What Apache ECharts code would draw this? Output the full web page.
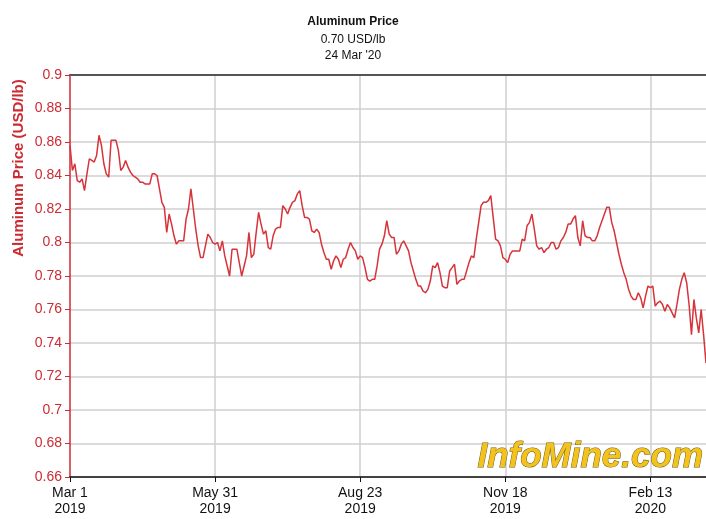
<!DOCTYPE html>
<html>
<head>
<meta charset="utf-8">
<script src="https://cdn.jsdelivr.net/npm/echarts@6/dist/echarts.min.js"></script>
<style>html,body{margin:0;padding:0;background:#fff;}#c{width:706px;height:519px;}</style>
</head>
<body>
<div id="c"></div>
<script>
// Daily aluminum price, USD/lb, trading days from 1 Mar 2019 to 24 Mar 2020
const prices = [
  0.858,0.843,0.847,0.837,0.836,0.838,0.831,0.841,0.850,0.849,
  0.848,0.852,0.864,0.858,0.847,0.841,0.839,0.861,0.861,0.861,
  0.855,0.843,0.845,0.849,0.845,0.842,0.840,0.839,0.838,0.836,
  0.836,0.835,0.835,0.835,0.841,0.841,0.840,0.832,0.824,0.821,
  0.806,0.817,0.811,0.804,0.799,0.801,0.801,0.801,0.814,0.820,
  0.832,0.820,0.808,0.798,0.791,0.791,0.798,0.805,0.803,0.800,
  0.799,0.800,0.795,0.801,0.792,0.786,
  0.780,0.796,0.796,0.796,0.788,0.780,0.786,0.792,0.806,0.791,
  0.793,0.806,0.818,0.811,0.805,0.807,0.797,0.796,0.804,0.808,
  0.809,0.809,0.822,0.820,0.817,0.821,0.824,0.825,0.829,0.831,
  0.822,0.815,0.815,0.814,0.807,0.806,0.808,0.806,0.799,0.794,
  0.790,0.790,0.784,0.789,0.792,0.790,0.785,0.790,0.791,0.796,
  0.800,0.797,0.795,0.790,0.792,0.791,0.785,0.778,0.777,0.778,
  0.778,0.786,0.796,0.799,0.804,
  0.813,0.805,0.803,0.803,0.793,0.795,0.799,0.801,0.798,0.795,
  0.788,0.783,0.778,0.774,0.774,0.771,0.770,0.772,0.777,0.786,
  0.785,0.788,0.782,0.774,0.773,0.773,0.783,0.785,0.787,0.775,
  0.777,0.778,0.778,0.783,0.788,0.792,0.791,0.802,0.812,0.822,
  0.824,0.824,0.825,0.828,0.815,0.802,0.801,0.798,0.791,0.790,
  0.788,0.793,0.795,0.795,0.795,0.795,0.802,0.801,0.810,0.812,
  0.817,0.808,0.798,0.796,
  0.797,0.794,0.796,0.797,0.800,0.800,0.796,0.797,0.801,0.803,
  0.806,0.811,0.811,0.814,0.816,0.803,0.798,0.813,0.804,0.803,
  0.803,0.801,0.801,0.804,0.809,0.813,0.817,0.821,0.821,0.812,
  0.807,0.800,0.793,0.787,0.782,0.778,0.772,0.768,0.766,0.766,
  0.770,0.767,0.761,0.768,0.774,0.773,0.774,0.762,0.764,0.765,
  0.763,0.759,0.763,0.761,0.758,0.755,0.763,0.772,0.778,0.782,
  0.776,0.763,0.745,0.766,0.755,0.746,0.760,0.745,0.728
];
// X tick labels placed every 60 trading days
const xTickLabels = ['Mar 1\n2019','May 31\n2019','Aug 23\n2019','Nov 18\n2019','Feb 13\n2020'];
const xTickStep = 60;
const titleText = 'Aluminum Price';
const subText = "0.70 USD/lb\n24 Mar '20";
const yAxisTitle = 'Aluminum Price (USD/lb)';
const watermark = 'InfoMine.com';

const RED = '#cc2b33';
const FONT = '"Liberation Sans", Arial, sans-serif';
const lastIdx = prices.length - 1;

const chart = echarts.init(document.getElementById('c'), null, {renderer: 'canvas'});
chart.setOption({
  animation: false,
  backgroundColor: '#fff',
  title: {
    text: titleText,
    subtext: subText,
    left: 'center',
    top: 10,
    itemGap: 3,
    textStyle: {fontFamily: FONT, fontSize: 12, fontWeight: 'bold', color: '#111', lineHeight: 14},
    subtextStyle: {fontFamily: FONT, fontSize: 12, color: '#111', lineHeight: 16}
  },
  grid: {left: 70, right: 0, top: 75, bottom: 42},
  xAxis: [{
    type: 'value',
    min: 0,
    max: lastIdx,
    interval: xTickStep,
    axisLine: {show: true, lineStyle: {color: '#111', width: 1.5}},
    axisTick: {show: true, length: 5, lineStyle: {color: '#111'}},
    axisLabel: {
      fontFamily: FONT, fontSize: 14, color: '#111', lineHeight: 16, margin: 8,
      showMaxLabel: false,
      formatter: function (v) {
        const k = Math.round(v / xTickStep);
        return (v % xTickStep === 0 && xTickLabels[k]) ? xTickLabels[k] : '';
      }
    },
    splitLine: {show: true, showMaxLine: false, showMinLine: false, lineStyle: {color: '#cfcfcf', width: 1.5}}
  }, {
    type: 'value',
    position: 'top',
    min: 0,
    max: lastIdx,
    axisLine: {show: true, lineStyle: {color: '#555', width: 2}},
    axisTick: {show: false},
    axisLabel: {show: false},
    splitLine: {show: false}
  }],
  yAxis: {
    type: 'value',
    min: 0.66,
    max: 0.9,
    interval: 0.02,
    axisLine: {show: true, lineStyle: {color: RED, width: 1.5}},
    axisTick: {show: true, length: 5, lineStyle: {color: RED}},
    axisLabel: {
      fontFamily: FONT, fontSize: 14, color: RED, margin: 8,
      formatter: function (v) { return String(parseFloat(v.toFixed(2))); }
    },
    splitLine: {show: true, showMaxLine: false, lineStyle: {color: '#cfcfcf', width: 1.5}}
  },
  graphic: [{
    type: 'text',
    x: 19,
    y: 168,
    rotation: Math.PI / 2,
    style: {
      text: yAxisTitle,
      fill: RED,
      font: 'bold 15px ' + FONT,
      align: 'center',
      verticalAlign: 'middle'
    },
    z: 10
  }, {
    type: 'text',
    x: 703,
    y: 475,
    style: {
      text: watermark,
      fill: '#f4c21c',
      stroke: '#6b5a1a',
      lineWidth: 1,
      font: 'italic bold 35px ' + FONT,
      align: 'right',
      verticalAlign: 'bottom',
      shadowColor: 'rgba(0,0,0,0.45)',
      shadowOffsetX: 2,
      shadowOffsetY: 2,
      shadowBlur: 2
    },
    z: 1
  }],
  series: [{
    type: 'line',
    xAxisIndex: 0,
    data: prices.map(function (p, i) { return [i, p]; }),
    showSymbol: false,
    symbol: 'none',
    lineStyle: {color: '#d6333a', width: 1.5},
    z: 5
  }]
});
</script>
</body>
</html>
